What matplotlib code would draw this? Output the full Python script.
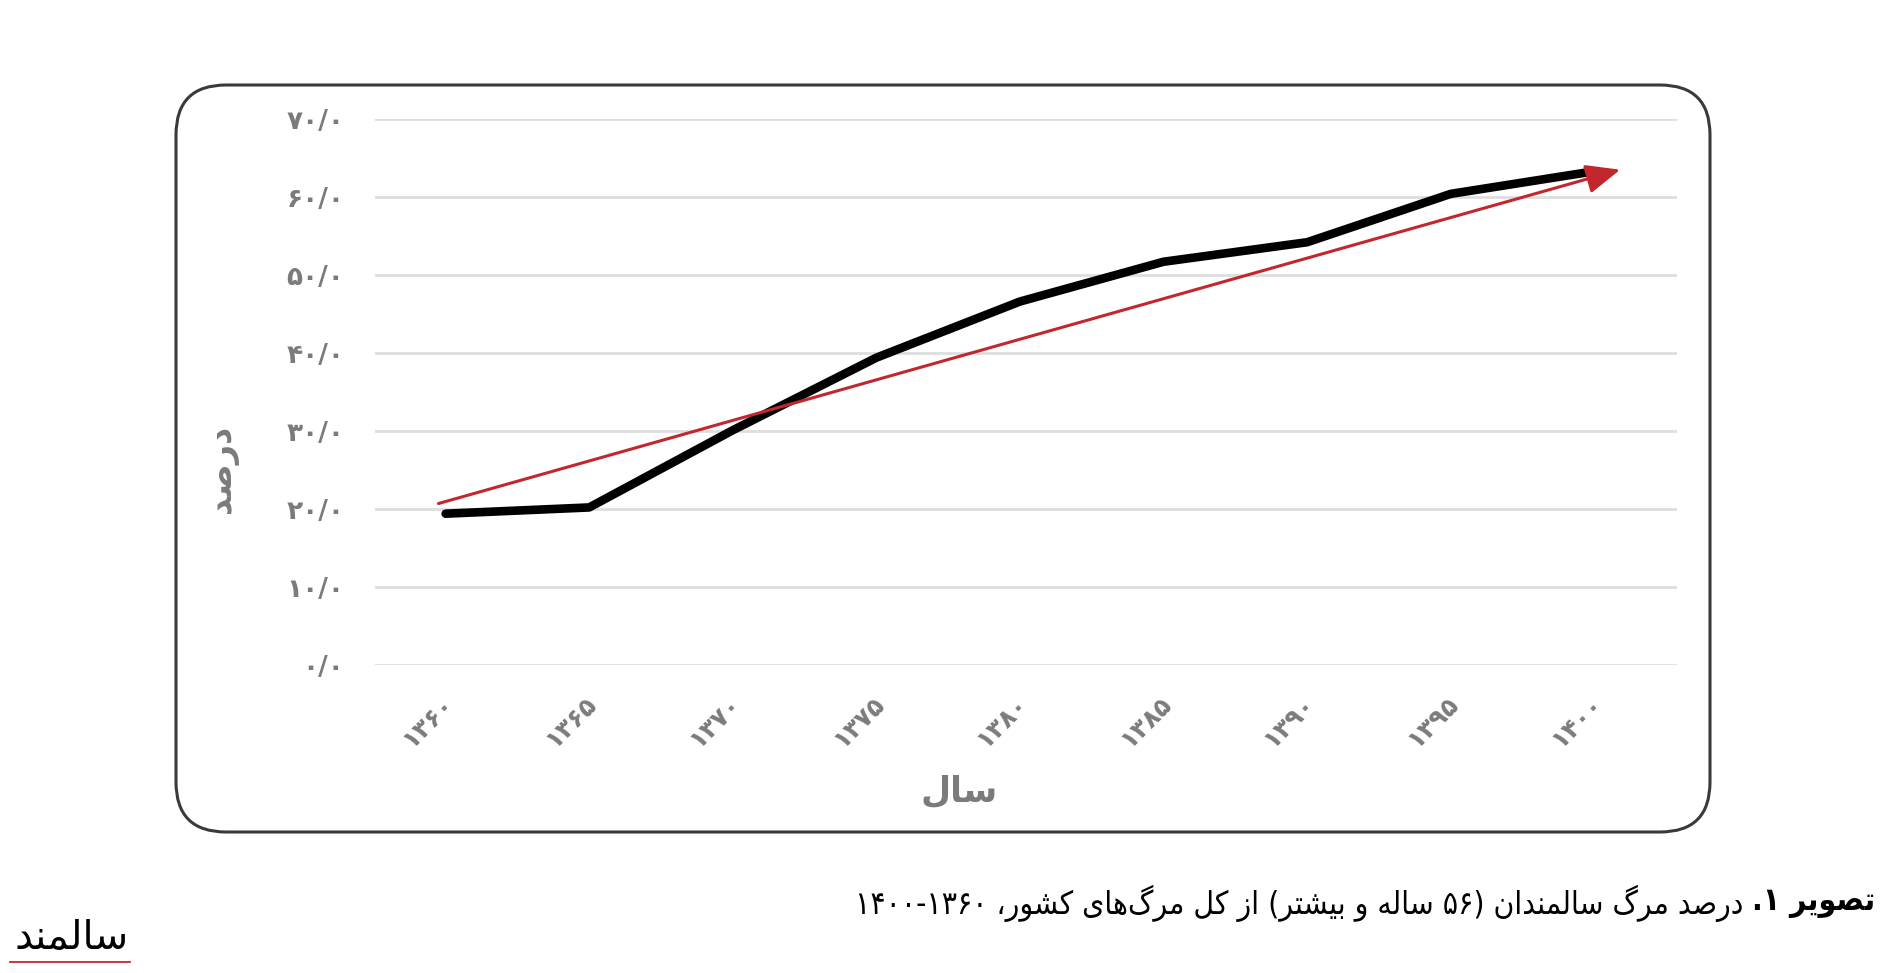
import re
import matplotlib
matplotlib.use('Agg')
import matplotlib.pyplot as plt
from matplotlib.patches import FancyBboxPatch
from matplotlib.lines import Line2D
from matplotlib.transforms import ScaledTranslation
from matplotlib import font_manager
from matplotlib.ft2font import FT2Font

# ---------------- data ----------------
years = [1360, 1365, 1370, 1375, 1380, 1385, 1390, 1395, 1400]
elderly_share = [19.4, 20.2, 30.1, 39.4, 46.6, 51.7, 54.2, 60.4, 63.3]
trend_start = [1359.75, 20.7]
trend_end = [1400.9, 63.5]
y_ticks = [0, 10, 20, 30, 40, 50, 60, 70]
x_title = 'سال'
y_title = 'درصد'
caption_bold = 'تصویر ۱.'
caption_rest = 'درصد مرگ سالمندان (۵۶ ساله و بیشتر) از کل مرگ\u200cهای کشور، ۱۳۶۰-۱۴۰۰'
logo_text = 'سالمند'

# ---------------- simple Persian shaping / bidi ----------------
FORMS = {
    '\u0627': ('\uFE8D', '\uFE8E', None, None),
    '\u0628': ('\uFE8F', '\uFE90', '\uFE91', '\uFE92'),
    '\u062A': ('\uFE95', '\uFE96', '\uFE97', '\uFE98'),
    '\u062F': ('\uFEA9', '\uFEAA', None, None),
    '\u0631': ('\uFEAD', '\uFEAE', None, None),
    '\u0632': ('\uFEAF', '\uFEB0', None, None),
    '\u0633': ('\uFEB1', '\uFEB2', '\uFEB3', '\uFEB4'),
    '\u0634': ('\uFEB5', '\uFEB6', '\uFEB7', '\uFEB8'),
    '\u0635': ('\uFEB9', '\uFEBA', '\uFEBB', '\uFEBC'),
    '\u0644': ('\uFEDD', '\uFEDE', '\uFEDF', '\uFEE0'),
    '\u0645': ('\uFEE1', '\uFEE2', '\uFEE3', '\uFEE4'),
    '\u0646': ('\uFEE5', '\uFEE6', '\uFEE7', '\uFEE8'),
    '\u0647': ('\uFEE9', '\uFEEA', '\uFEEB', '\uFEEC'),
    '\u0648': ('\uFEED', '\uFEEE', None, None),
    '\u06CC': ('\uFBFC', '\uFBFD', '\uFBFE', '\uFBFF'),
    '\u06A9': ('\uFB8E', '\uFB8F', '\uFB90', '\uFB91'),
    '\u06AF': ('\uFB92', '\uFB93', '\uFB94', '\uFB95'),
}
RIGHT_ONLY = {'\u0627', '\u062F', '\u0631', '\u0632', '\u0648'}

_cmaps = {}


def font_path(weight='normal', stretch='normal'):
    fp = font_manager.FontProperties(family='DejaVu Sans', weight=weight, stretch=stretch)
    return font_manager.findfont(fp)


def cmap_of(path):
    if path not in _cmaps:
        _cmaps[path] = FT2Font(path).get_charmap()
    return _cmaps[path]


def shape(s, cm):
    s = s.replace('\u064A', '\u06CC').replace('\u0643', '\u06A9')
    chars = list(s)
    out = []
    for i, c in enumerate(chars):
        if c not in FORMS:
            if c != '\u200c':
                out.append(c)
            continue
        prev = chars[i - 1] if i > 0 else None
        nxt = chars[i + 1] if i < len(chars) - 1 else None
        jp = prev in FORMS and prev not in RIGHT_ONLY
        jn = nxt in FORMS and c not in RIGHT_ONLY
        iso, fin, ini, med = FORMS[c]
        if jp and jn:
            f = med
        elif jp:
            f = fin
        elif jn:
            f = ini
        else:
            f = iso
        out.append(f if (f and ord(f) in cm) else c)
    return ''.join(out)


def rtl(s, path=None):
    cm = cmap_of(path or font_path())
    shaped = shape(s, cm)
    tokens = re.findall(r'[\u06F0-\u06F90-9]+|.', shaped)
    mirror = {'(': ')', ')': '('}
    return ''.join(mirror.get(t, t) for t in reversed(tokens))


def covers(path, text):
    cm = cmap_of(path)
    vis = rtl(text, path)
    return all(ord(c) in cm for c in vis if c != ' ')


def best_weight(text):
    return 'bold' if covers(font_path('bold'), text) else 'normal'


def fa(v):
    return str(v).translate(str.maketrans('0123456789', '۰۱۲۳۴۵۶۷۸۹'))


# ---------------- figure ----------------
W, H = 1899, 973
fig = plt.figure(figsize=(W / 100, H / 100), dpi=100)
fig.patch.set_facecolor('white')

frame = FancyBboxPatch((1.76, 1.41), 15.34, 7.47,
                       boxstyle='round,pad=0,rounding_size=0.50',
                       transform=fig.dpi_scale_trans, facecolor='white',
                       edgecolor='#3a3a3a', linewidth=2.2, zorder=0)
fig.add_artist(frame)

ax = fig.add_axes([375 / W, 1 - 665 / H, (1677 - 375) / W, (665 - 119) / H])
ax.set_facecolor('none')
ax.set_xlim(1357.54, 1402.88)
ax.set_ylim(0, 70)
for sp in ax.spines.values():
    sp.set_visible(False)
ax.set_yticks(y_ticks)
ax.yaxis.grid(True, color='#dedede', linewidth=2.0)
ax.set_axisbelow(True)
ax.tick_params(length=0)

gray = '#7b7b7b'
ylabels = [fa(v) + '/۰' for v in y_ticks]
xlabels = [fa(y) for y in years]
wy = best_weight(''.join(ylabels))
ax.set_yticklabels(ylabels, fontsize=19, color=gray, fontweight=wy, family='DejaVu Sans')
ax.tick_params(axis='y', pad=22)
ax.set_xticks(years)
ax.set_xticklabels(xlabels, rotation=45, rotation_mode='anchor', ha='right', va='center',
                   fontsize=18, color=gray, fontweight=wy, family='DejaVu Sans')
ax.tick_params(axis='x', pad=25)
for lbl in ax.get_xticklabels():
    lbl.set_transform(lbl.get_transform() + ScaledTranslation(0.04, 0, fig.dpi_scale_trans))

ax.plot(years, elderly_share, color='black', linewidth=6.2,
        solid_capstyle='round', solid_joinstyle='round', zorder=3)
ax.annotate('', xy=trend_end, xytext=trend_start,
            arrowprops=dict(arrowstyle='-|>,head_length=1.05,head_width=0.45',
                            mutation_scale=20, color='#c1272d', lw=2.2,
                            shrinkA=0, shrinkB=0),
            annotation_clip=False, zorder=4)

# axis titles
wt = best_weight(x_title + y_title)
fig.text(959 / W, 1 - 792 / H, rtl(x_title, font_path(wt)), ha='center', va='center',
         fontsize=25, fontweight=wt, color=gray, family='DejaVu Sans')
fig.text(222 / W, 1 - 469 / H, rtl(y_title, font_path(wt)), ha='center', va='center',
         rotation=90, fontsize=24, fontweight=wt, color=gray, family='DejaVu Sans')

# caption (condensed face if it has the glyphs)
cap_stretch = 'normal'
p_cond = font_path('normal', 'condensed')
p_cond_b = font_path('bold', 'condensed')
if ('ondensed' in p_cond and covers(p_cond, caption_rest)
        and 'ondensed' in p_cond_b and covers(p_cond_b, caption_bold)):
    cap_stretch = 'condensed'
wb = 'bold' if covers(font_path('bold', cap_stretch), caption_bold) else 'normal'
t_bold = fig.text(1875 / W, 1 - 903 / H, rtl(caption_bold, font_path(wb, cap_stretch)),
                  ha='right', va='center', fontsize=20, fontweight=wb, fontstretch=cap_stretch,
                  color='black', family='DejaVu Sans')
t_rest = fig.text(0, 1 - 903 / H, rtl(caption_rest, font_path('normal', cap_stretch)),
                  ha='right', va='center', fontsize=20, fontstretch=cap_stretch,
                  color='black', family='DejaVu Sans')
fig.canvas.draw()
r = fig.canvas.get_renderer()
wb_px = t_bold.get_window_extent(r).width
wr_px = t_rest.get_window_extent(r).width
gap = 8
scale = (1021 - gap) / (wb_px + wr_px)
fs = 20 * scale
t_bold.set_fontsize(fs)
t_rest.set_fontsize(fs)
t_rest.set_x((1875 - wb_px * scale - gap * scale) / W)

# logo
t_logo = fig.text(72 / W, 1 - 938 / H, rtl(logo_text), ha='center', va='center',
                  fontsize=20, color='black', family='DejaVu Sans')
fig.canvas.draw()
lw_px = t_logo.get_window_extent(fig.canvas.get_renderer()).width
t_logo.set_fontsize(20 * 114 / lw_px)
fig.add_artist(Line2D([10 / W, 130 / W], [1 - 962 / H, 1 - 962 / H],
                      color='#c1272d', linewidth=1.3))

fig.savefig('out.png', dpi=100, facecolor='white')
